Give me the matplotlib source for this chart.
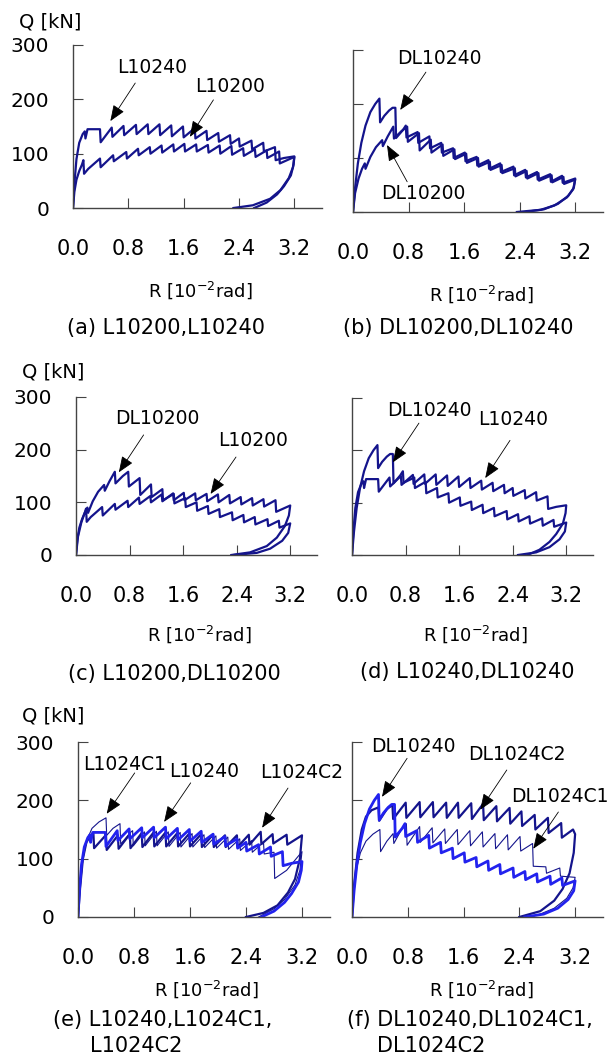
import numpy as np
import matplotlib
matplotlib.use("Agg")
import matplotlib.pyplot as plt

plt.rcParams["font.family"] = ["DejaVu Sans"]

# ---- specimen data: R [10^-2 rad], Q [kN] ----
L10240_R = [0, 0.02, 0.05, 0.09, 0.14, 0.17, 0.18, 0.21, 0.39, 0.40, 0.56, 0.57, 0.73, 0.74,
            0.91, 0.92, 1.08, 1.09, 1.25, 1.26, 1.42, 1.43, 1.59, 1.60, 1.76, 1.77, 1.93, 1.94,
            2.10, 2.11, 2.27, 2.28, 2.40, 2.41, 2.58, 2.59, 2.75, 2.76, 2.92, 2.93, 3.05, 3.20,
            3.19, 3.15, 3.05, 2.95, 2.80, 2.62]
L10240_Q = [0, 45, 90, 120, 136, 141, 128, 145, 145, 121, 148, 131, 151, 134,
            153, 136, 154, 136, 154, 134, 152, 132, 150, 130, 147, 128, 142, 125,
            138, 122, 134, 118, 128, 113, 124, 108, 120, 104, 112, 88, 92, 95,
            80, 60, 40, 25, 10, 0]

L10200_R = [0, 0.02, 0.05, 0.09, 0.13, 0.15, 0.16, 0.22, 0.39, 0.40, 0.58, 0.59, 0.77, 0.78,
            0.94, 0.95, 1.11, 1.12, 1.28, 1.29, 1.45, 1.46, 1.61, 1.62, 1.78, 1.79, 1.95, 1.96,
            2.12, 2.13, 2.29, 2.30, 2.46, 2.47, 2.63, 2.64, 2.80, 2.81, 2.98, 2.99, 3.20,
            3.18, 3.12, 3.00, 2.85, 2.60, 2.32]
L10200_Q = [0, 30, 52, 68, 80, 88, 63, 72, 91, 75, 97, 86, 103, 91,
            109, 97, 112, 100, 115, 102, 117, 104, 118, 104, 117, 104, 116, 102,
            115, 100, 114, 98, 110, 96, 108, 94, 106, 92, 104, 82, 94,
            75, 55, 33, 17, 5, 0]

DL10240_R = [0, 0.03, 0.07, 0.12, 0.18, 0.25, 0.32, 0.38, 0.39, 0.45, 0.52, 0.57, 0.61, 0.62,
             0.72, 0.76, 0.77, 0.93, 0.94, 1.10, 1.11, 1.27, 1.28, 1.44, 1.45, 1.61, 1.62,
             1.78, 1.79, 1.95, 1.96, 2.12, 2.13, 2.31, 2.32, 2.48, 2.49, 2.65, 2.66, 2.84, 2.85,
             3.01, 3.02, 3.20, 3.18, 3.10, 2.95, 2.75, 2.48]
DL10240_Q = [0, 45, 90, 128, 160, 185, 200, 210, 166, 178, 188, 193, 193, 137,
             152, 160, 138, 148, 128, 140, 118, 128, 110, 118, 100, 110, 94,
             102, 86, 96, 80, 90, 74, 84, 68, 78, 64, 74, 60, 70, 56,
             67, 54, 62, 45, 30, 15, 5, 0]

DL10200_R = [0, 0.03, 0.08, 0.13, 0.17, 0.18, 0.25, 0.33, 0.42, 0.43, 0.50, 0.58, 0.59, 0.70,
             0.78, 0.79, 0.95, 0.96, 1.12, 1.13, 1.29, 1.30, 1.46, 1.47, 1.63, 1.64, 1.80, 1.81,
             1.97, 1.98, 2.14, 2.15, 2.33, 2.34, 2.50, 2.51, 2.67, 2.68, 2.86, 2.87, 3.03, 3.04,
             3.20, 3.17, 3.08, 2.90, 2.70, 2.36]
DL10200_Q = [0, 35, 62, 80, 90, 80, 102, 120, 133, 122, 140, 158, 136, 150,
             158, 130, 146, 114, 134, 110, 125, 104, 116, 98, 108, 91, 100, 84,
             93, 78, 87, 72, 81, 66, 76, 62, 72, 58, 68, 55, 65, 52,
             60, 42, 27, 12, 4, 0]

L1024C1_R = [0, 0.03, 0.07, 0.12, 0.20, 0.30, 0.40, 0.41, 0.50, 0.60, 0.61, 0.75, 0.78, 0.79,
             0.95, 0.96, 1.12, 1.13, 1.29, 1.30, 1.46, 1.47, 1.63, 1.64, 1.80, 1.81, 1.97, 1.98,
             2.14, 2.15, 2.31, 2.32, 2.48, 2.49, 2.65, 2.66, 2.80, 2.81, 2.98, 3.20,
             3.17, 3.10, 2.95, 2.80, 2.58]
L1024C1_Q = [0, 50, 100, 130, 152, 163, 170, 140, 152, 160, 125, 145, 148, 122,
             146, 122, 147, 122, 146, 121, 145, 120, 143, 120, 141, 119, 139, 118,
             137, 116, 134, 114, 131, 111, 128, 108, 111, 66, 80, 112,
             80, 55, 30, 14, 0]

L1024C2_R = [0, 0.03, 0.07, 0.12, 0.18, 0.22, 0.23, 0.38, 0.40, 0.41, 0.57, 0.58, 0.74, 0.75,
             0.91, 0.92, 1.08, 1.09, 1.25, 1.26, 1.42, 1.43, 1.59, 1.60, 1.76, 1.77, 1.93, 1.94,
             2.10, 2.11, 2.27, 2.28, 2.44, 2.45, 2.61, 2.62, 2.78, 2.79, 2.98, 2.99, 3.20,
             3.17, 3.10, 3.00, 2.85, 2.65, 2.40]
L1024C2_Q = [0, 50, 100, 128, 140, 143, 118, 138, 140, 115, 140, 117, 142, 118,
             144, 120, 145, 121, 145, 121, 144, 121, 143, 121, 142, 120, 141, 120,
             140, 120, 140, 120, 141, 124, 146, 125, 142, 126, 141, 124, 140,
             100, 65, 42, 20, 7, 0]

DL1024C1_R = [0, 0.03, 0.07, 0.12, 0.20, 0.30, 0.40, 0.41, 0.50, 0.59, 0.60, 0.70, 0.78, 0.79,
              0.97, 0.98, 1.15, 1.16, 1.33, 1.34, 1.51, 1.52, 1.69, 1.70, 1.87, 1.88, 2.05, 2.06,
              2.23, 2.24, 2.41, 2.42, 2.59, 2.60, 2.78, 2.79, 2.98, 2.99, 3.20,
              3.17, 3.08, 2.90, 2.70, 2.55]
DL1024C1_Q = [0, 45, 85, 110, 130, 142, 150, 112, 130, 143, 126, 148, 160, 123,
              155, 128, 153, 127, 151, 126, 150, 124, 148, 122, 146, 120, 143, 117,
              141, 115, 138, 113, 126, 87, 86, 75, 84, 70, 68,
              50, 32, 15, 5, 0]

DL1024C2_R = [0, 0.03, 0.08, 0.14, 0.20, 0.28, 0.38, 0.39, 0.50, 0.58, 0.59, 0.77, 0.78, 0.97,
              0.98, 1.16, 1.17, 1.35, 1.36, 1.52, 1.53, 1.71, 1.72, 1.88, 1.89, 2.07, 2.08, 2.26,
              2.27, 2.43, 2.44, 2.62, 2.63, 2.81, 2.82, 3.00, 3.01, 3.17, 3.20,
              3.18, 3.12, 3.02, 2.90, 2.70, 2.40]
DL1024C2_Q = [0, 55, 110, 150, 172, 183, 188, 165, 185, 192, 168, 196, 170, 197,
              171, 197, 171, 196, 170, 196, 170, 195, 168, 194, 166, 190, 164, 187,
              160, 181, 156, 175, 150, 170, 144, 161, 136, 150, 142,
              110, 75, 48, 28, 10, 0]

NAVY = "#14148c"
BLUE = "#2222ee"

W, H = 608, 1057
fig = plt.figure(figsize=(W / 100, H / 100), dpi=100)


def px_axes(x0, y_top, x_end, y_bottom):
    return fig.add_axes([x0 / W, 1 - y_bottom / H, (x_end - x0) / W, (y_bottom - y_top) / H])


def style(ax, left_labels):
    ax.set_xlim(0, 3.6)
    ax.set_ylim(0, 300)
    for s in ["top", "right"]:
        ax.spines[s].set_visible(False)
    for s in ["left", "bottom"]:
        ax.spines[s].set_color("#444444")
        ax.spines[s].set_linewidth(1.0)
    ax.set_xticks([0, 0.8, 1.6, 2.4, 3.2])
    ax.set_xticklabels(["0.0", "0.8", "1.6", "2.4", "3.2"], fontsize=15)
    ax.set_yticks([0, 100, 200, 300])
    if left_labels:
        ax.set_yticklabels(["0", "100", "200", "300"], fontsize=14.5)
    else:
        ax.set_yticklabels([])
    ax.tick_params(axis="x", direction="in", length=7, color="#444444", pad=22)
    ax.tick_params(axis="y", direction="in", length=7, color="#444444", pad=17)


def arrow(ax, label, text_xy, start, tip):
    ax.text(text_xy[0], text_xy[1], label, ha="center", va="center", fontsize=13.5,
            clip_on=False)
    ax.annotate("", xy=tip, xytext=start,
                arrowprops=dict(arrowstyle="-|>,head_length=0.7,head_width=0.28",
                                color="black", lw=0.6, mutation_scale=14,
                                shrinkA=0, shrinkB=0),
                annotation_clip=False)


# (a)
ax = px_axes(73, 45, 322, 208)
style(ax, True)
ax.plot(L10200_R, L10200_Q, color=NAVY, lw=1.6)
ax.plot(L10240_R, L10240_Q, color=NAVY, lw=1.6)
arrow(ax, "L10240", (1.14, 258), (0.90, 230), (0.54, 160))
arrow(ax, "L10200", (2.27, 223), (2.03, 199), (1.69, 131))

# (b)
ax = px_axes(353, 50, 603, 212)
style(ax, False)
ax.plot(DL10200_R, DL10200_Q, color=NAVY, lw=1.6)
ax.plot(DL10240_R, DL10240_Q, color=NAVY, lw=1.6)
arrow(ax, "DL10240", (1.25, 285), (1.05, 259), (0.68, 189))
arrow(ax, "DL10200", (1.01, 35), (0.78, 56), (0.49, 124))

# (c)
ax = px_axes(76, 397, 317, 555)
style(ax, True)
ax.plot(L10200_R, L10200_Q, color=NAVY, lw=1.6)
ax.plot(DL10200_R, DL10200_Q, color=NAVY, lw=1.6)
arrow(ax, "DL10200", (1.21, 260), (1.01, 228), (0.64, 157))
arrow(ax, "L10200", (2.64, 218), (2.39, 186), (2.01, 116))

# (d)
ax = px_axes(352, 398, 593, 555)
style(ax, False)
ax.plot(L10240_R, L10240_Q, color=NAVY, lw=1.6)
ax.plot(DL10240_R, DL10240_Q, color=NAVY, lw=1.6)
arrow(ax, "DL10240", (1.16, 277), (1.00, 252), (0.61, 177))
arrow(ax, "L10240", (2.40, 258), (2.36, 219), (1.99, 147))

# (e)
ax = px_axes(78, 742, 330, 917)
style(ax, True)
ax.plot(L1024C2_R, L1024C2_Q, color=NAVY, lw=1.6)
ax.plot(L1024C1_R, L1024C1_Q, color=NAVY, lw=0.8)
ax.plot(L10240_R, L10240_Q, color=BLUE, lw=2.0)
arrow(ax, "L1024C1", (0.66, 261), (0.81, 247), (0.41, 177))
arrow(ax, "L10240", (1.80, 250), (1.61, 230), (1.23, 163))
arrow(ax, "L1024C2", (3.19, 247), (3.00, 221), (2.63, 153))

# (f)
ax = px_axes(352, 742, 603, 917)
style(ax, False)
ax.plot(DL1024C2_R, DL1024C2_Q, color=NAVY, lw=1.6)
ax.plot(DL1024C1_R, DL1024C1_Q, color=NAVY, lw=0.8)
ax.plot(DL10240_R, DL10240_Q, color=BLUE, lw=2.0)
arrow(ax, "DL10240", (0.88, 292), (0.79, 272), (0.43, 206))
arrow(ax, "DL1024C2", (2.37, 278), (2.22, 252), (1.84, 184))
arrow(ax, "DL1024C1", (2.98, 206), (2.96, 180), (2.60, 117))


def ftext(x, y, s, size, ha="center"):
    fig.text(x / W, 1 - y / H, s, ha=ha, va="center", fontsize=size)


xlab = r"R [10$^{-2}$rad]"
for x, y in [(200, 290), (481, 294), (199, 634), (475, 634), (206, 989), (481, 989)]:
    ftext(x, y, xlab, 13)
for x, y in [(50, 22), (53, 372), (53, 716)]:
    ftext(x, y, "Q [kN]", 14)

ftext(166, 328, "(a) L10200,L10240", 15)
ftext(458, 328, "(b) DL10200,DL10240", 15)
ftext(174, 674, "(c) L10200,DL10200", 15)
ftext(467, 672, "(d) L10240,DL10240", 15)
ftext(53, 1020, "(e) L10240,L1024C1,", 15, ha="left")
ftext(90, 1046, "L1024C2", 15, ha="left")
ftext(347, 1020, "(f) DL10240,DL1024C1,", 15, ha="left")
ftext(377, 1046, "DL1024C2", 15, ha="left")

fig.savefig("out.png", dpi=100)
